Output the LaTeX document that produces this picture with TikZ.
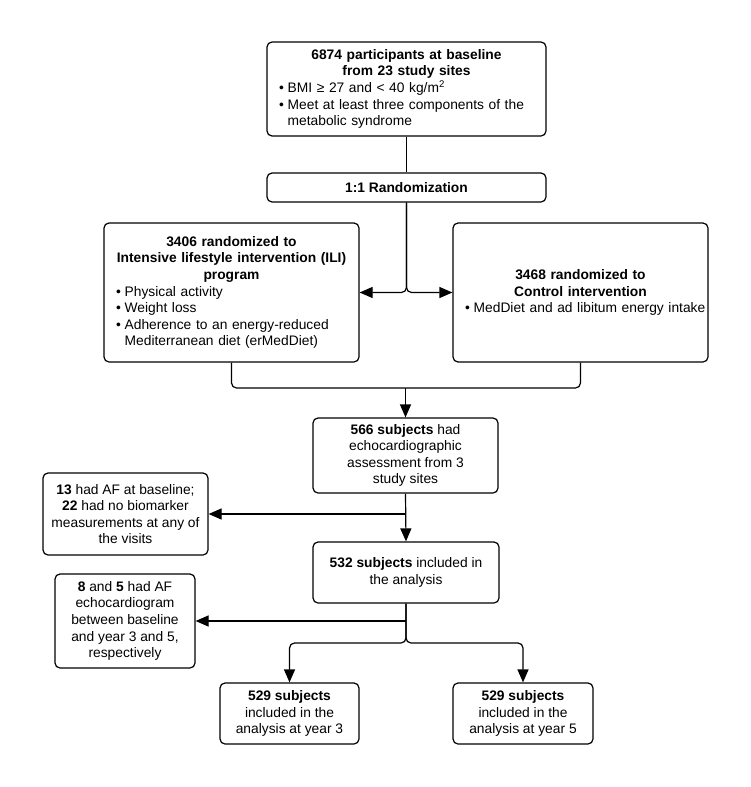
\documentclass[tikz,border=0pt]{standalone}
\usepackage{fontspec}
\setmainfont{Liberation Sans}
\usetikzlibrary{arrows.meta}
\newcommand\bl[1]{\noindent\mbox{\makebox[0.63em][l]{\textbullet}#1}\par}
\newcommand\cl[1]{\noindent\mbox{\hspace*{0.63em}#1}\par}
\newcommand\hd[1]{\noindent\makebox[\linewidth][c]{\bfseries #1}\par}
\begin{document}
\begin{tikzpicture}[x=1pt,y=-1pt,
  box/.style={draw, line width=1.2pt, rounded corners=5pt, inner sep=0pt,
    font=\fontsize{13.8}{16.6}\selectfont},
  cbox/.style={box, align=center},
  lbox/.style={box, align=left},
  conn/.style={line width=1.2pt},
  arr/.style={conn, -{Triangle[length=13pt,width=11pt]}}]
\useasboundingbox (0,0) rectangle (750,787);
\node[lbox, minimum width=279, minimum height=94, text width=255] (b1) at (406.5,89)
  {\hd{6874 participants at baseline}\hd{from 23 study sites}%
   \bl{BMI ≥ 27 and < 40 kg/m\textsuperscript{2}}%
   \bl{Meet at least three components of the}\cl{metabolic syndrome}};
\node[cbox, minimum width=279, minimum height=29, font=\fontsize{13.8}{16.6}\selectfont\bfseries] (rand) at (406.5,187.5) {1:1 Randomization};
\node[lbox, minimum width=255, minimum height=139, text width=231] (ili) at (231.5,292.5)
  {\hd{3406 randomized to}\hd{Intensive lifestyle intervention (ILI)}\hd{program}%
   \bl{Physical activity}\bl{Weight loss}\bl{Adherence to an energy-reduced}%
   \cl{Mediterranean diet (erMedDiet)}};
\node[lbox, minimum width=255, minimum height=139, text width=231] (ctl) at (580.5,292.5)
  {\hd{3468 randomized to}\hd{Control intervention}%
   \bl{MedDiet and ad libitum energy intake}};
\node[cbox, minimum width=185, minimum height=75] (n566) at (405.5,455.5)
  {\textbf{566 subjects} had\\echocardiographic\\assessment from 3\\study sites};
\node[cbox, minimum width=165, minimum height=82] (n13) at (125.5,514)
  {\textbf{13} had AF at baseline;\\\textbf{22} had no biomarker\\measurements at any of\\the visits};
\node[cbox, minimum width=186, minimum height=61] (n532) at (406,572.5)
  {\textbf{532 subjects} included in\\the analysis};
\node[cbox, minimum width=140, minimum height=94] (n8) at (125,621)
  {\textbf{8} and \textbf{5} had AF\\echocardiogram\\between baseline\\and year 3 and 5,\\respectively};
\node[cbox, minimum width=139, minimum height=61] (y3) at (289.5,713.5)
  {\textbf{529 subjects}\\included in the\\analysis at year 3};
\node[cbox, minimum width=140, minimum height=61] (y5) at (523,713.5)
  {\textbf{529 subjects}\\included in the\\analysis at year 5};
\draw[conn] (b1.south) -- (rand.north);
\draw[arr, rounded corners=5pt] (rand.south) |- (ili.east);
\draw[arr, rounded corners=5pt] (rand.south) |- (ctl.west);
\coordinate (j1) at (405.5,388);
\draw[conn, rounded corners=5pt] (ili.south) |- (j1);
\draw[conn, rounded corners=5pt] (ctl.south) |- (j1);
\draw[arr] (j1) -- (n566.north);
\draw[arr] (n566.south) -- (n532.north);
\draw[arr] (n566.south |- n13.east) -- (n13.east);
\coordinate (j2) at (406,643);
\draw[arr] (n532.south |- n8.east) -- (n8.east);
\draw[arr, rounded corners=5pt] (n532.south) -- (j2) -| (y3.north);
\draw[arr, rounded corners=5pt] (n532.south) -- (j2) -| (y5.north);
\end{tikzpicture}
\end{document}
